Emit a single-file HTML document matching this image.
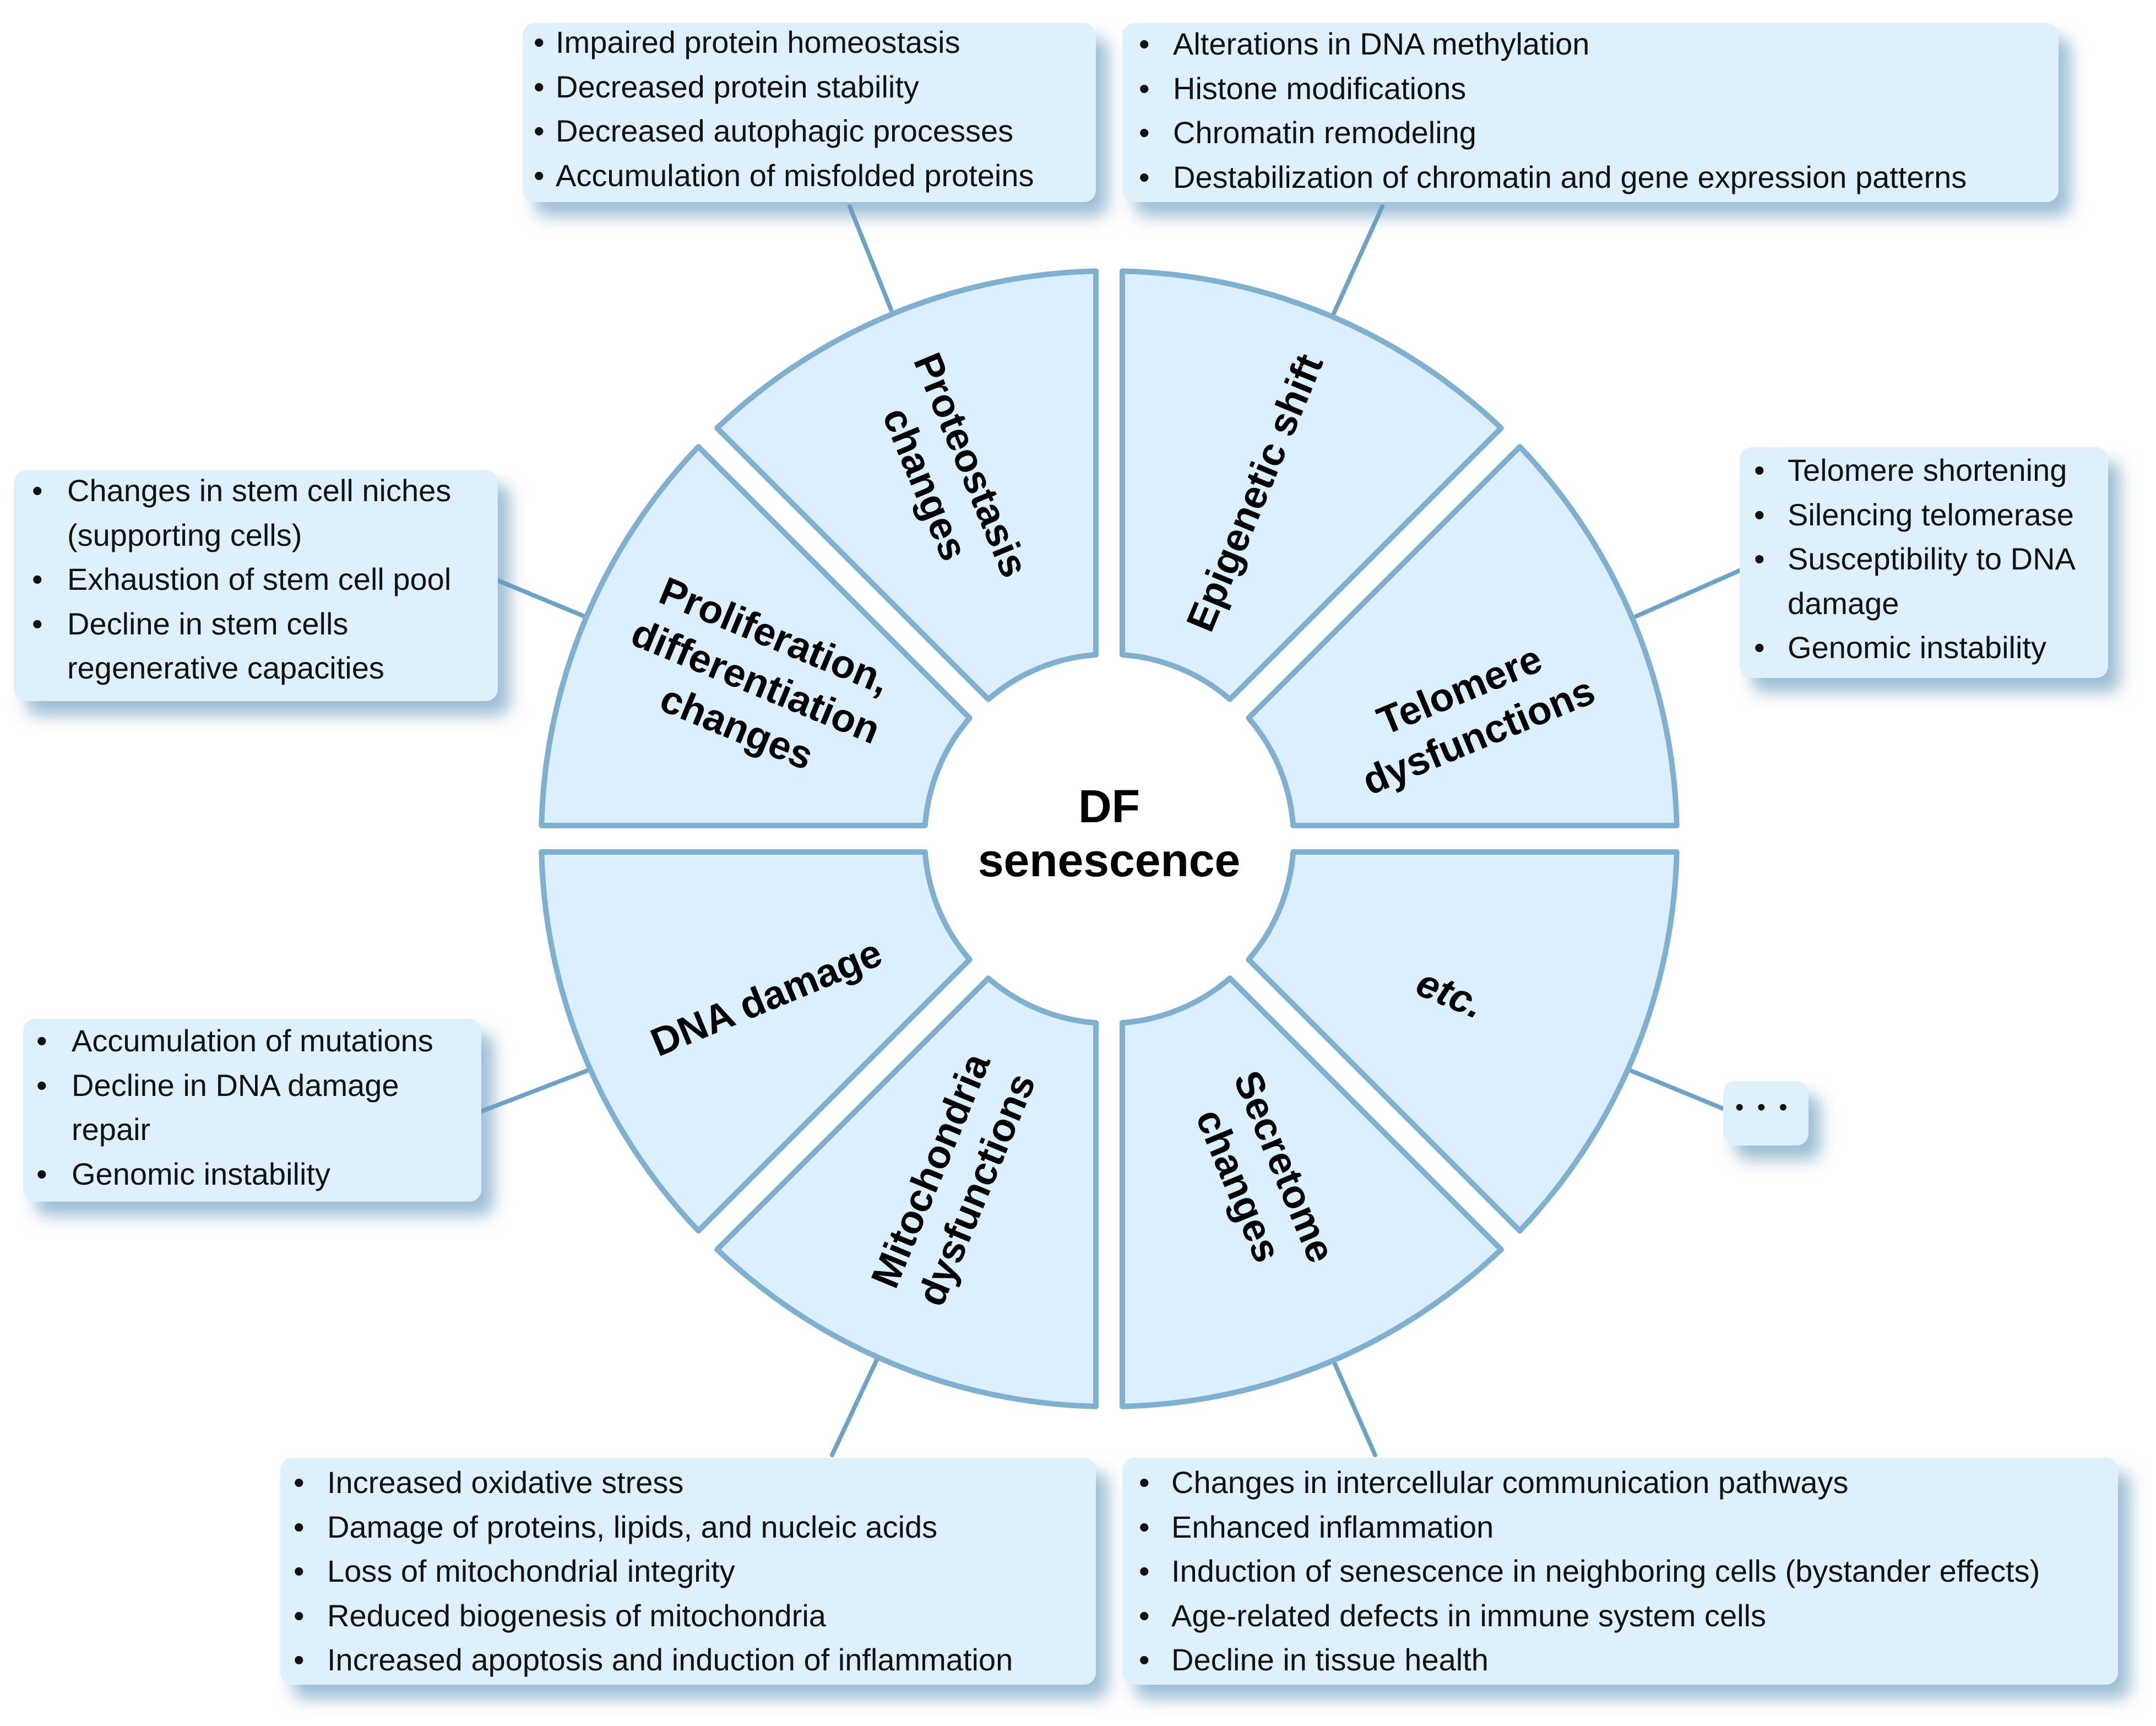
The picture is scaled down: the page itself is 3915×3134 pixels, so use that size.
<!DOCTYPE html>
<html><head><meta charset="utf-8"><style>
html,body{margin:0;padding:0;background:#fff;}
#root{position:relative;width:3915px;height:3134px;overflow:hidden;background:#fff;font-family:"Liberation Sans",sans-serif;}
.box{position:absolute;background:#dff0fd;border-radius:22px;box-shadow:22px 26px 30px rgba(105,155,190,0.65);}
.tx{position:absolute;left:0;right:0;font-size:56px;line-height:80.6px;color:#111;}
.ln{position:relative;white-space:nowrap;}
.bu{position:absolute;}
svg{position:absolute;left:0;top:0;}
</style></head><body><div id="root">
<svg width="3915" height="3134" viewBox="0 0 3915 3134">
<g stroke="#6fa3c6" stroke-width="8" stroke-linecap="round">
<line x1="1543" y1="375" x2="1618" y2="562"/>
<line x1="2510" y1="375" x2="2422" y2="569"/>
<line x1="3159" y1="1036" x2="2971" y2="1119"/>
<line x1="904" y1="1054" x2="1061" y2="1119"/>
<line x1="874" y1="2018" x2="1069" y2="1943"/>
<line x1="3129" y1="2013" x2="2959" y2="1943"/>
<line x1="1511" y1="2642" x2="1593" y2="2467"/>
<line x1="2497" y1="2642" x2="2422" y2="2472"/>
</g>
<g transform="translate(2014,1523)" fill="#dcefff" stroke="#7fb0cf" stroke-width="10" stroke-linejoin="round">
<path d="M24,-334.14 L24,-1030.72 A1031 1031 0 0 1 711.85,-745.79 L219.30,-253.24 A335 335 0 0 0 24,-334.14 Z"/>
<path d="M253.24,-219.30 L745.79,-711.85 A1031 1031 0 0 1 1030.72,-24 L334.14,-24 A335 335 0 0 0 253.24,-219.30 Z"/>
<path d="M334.14,24 L1030.72,24 A1031 1031 0 0 1 745.79,711.85 L253.24,219.30 A335 335 0 0 0 334.14,24 Z"/>
<path d="M219.30,253.24 L711.85,745.79 A1031 1031 0 0 1 24,1030.72 L24,334.14 A335 335 0 0 0 219.30,253.24 Z"/>
<path d="M-24,334.14 L-24,1030.72 A1031 1031 0 0 1 -711.85,745.79 L-219.30,253.24 A335 335 0 0 0 -24,334.14 Z"/>
<path d="M-253.24,219.30 L-745.79,711.85 A1031 1031 0 0 1 -1030.72,24 L-334.14,24 A335 335 0 0 0 -253.24,219.30 Z"/>
<path d="M-334.14,-24 L-1030.72,-24 A1031 1031 0 0 1 -745.79,-711.85 L-253.24,-219.30 A335 335 0 0 0 -334.14,-24 Z"/>
<path d="M-219.30,-253.24 L-711.85,-745.79 A1031 1031 0 0 1 -24,-1030.72 L-24,-334.14 A335 335 0 0 0 -219.30,-253.24 Z"/>
</g>
<g transform="translate(2014,1523)" font-family="Liberation Sans, sans-serif" font-weight="bold" font-size="72" fill="#000" text-anchor="middle">
<text transform="translate(263,-629) rotate(-67.5)"><tspan x="0" dy="26">Epigenetic shift</tspan></text>
<text transform="translate(653,-230) rotate(-22.5)"><tspan x="0" dy="-19">Telomere</tspan><tspan x="0" dy="90">dysfunctions</tspan></text>
<text transform="translate(620,280) rotate(22.5)" font-style="italic"><tspan x="0" dy="26">etc.</tspan></text>
<text transform="translate(278,612) rotate(67.5)"><tspan x="0" dy="-19">Secretome</tspan><tspan x="0" dy="90">changes</tspan></text>
<text transform="translate(-284,619) rotate(-67.5)"><tspan x="0" dy="-19">Mitochondria</tspan><tspan x="0" dy="90">dysfunctions</tspan></text>
<text transform="translate(-623,287) rotate(-22.5)"><tspan x="0" dy="26">DNA damage</tspan></text>
<text transform="translate(-641,-287) rotate(22.5)"><tspan x="0" dy="-64">Proliferation,</tspan><tspan x="0" dy="90">differentiation</tspan><tspan x="0" dy="90">changes</tspan></text>
<text transform="translate(-291,-662) rotate(67.5)"><tspan x="0" dy="-19">Proteostasis</tspan><tspan x="0" dy="90">changes</tspan></text>
<text x="0" y="-30" font-size="84">DF</text>
<text x="0" y="68" font-size="84">senescence</text>
</g>
</svg>

<div class="box" style="left:949px;top:42px;width:1041px;height:325px;">
<div class="tx" style="top:-5px;">
<div class="ln" style="padding-left:60px"><span class="bu" style="left:20px">•</span>Impaired protein homeostasis</div>
<div class="ln" style="padding-left:60px"><span class="bu" style="left:20px">•</span>Decreased protein stability</div>
<div class="ln" style="padding-left:60px"><span class="bu" style="left:20px">•</span>Decreased autophagic processes</div>
<div class="ln" style="padding-left:60px"><span class="bu" style="left:20px">•</span>Accumulation of misfolded proteins</div>
</div></div>

<div class="box" style="left:2038px;top:42px;width:1700px;height:325px;">
<div class="tx" style="top:-2px;">
<div class="ln" style="padding-left:92px"><span class="bu" style="left:30px">•</span>Alterations in DNA methylation</div>
<div class="ln" style="padding-left:92px"><span class="bu" style="left:30px">•</span>Histone modifications</div>
<div class="ln" style="padding-left:92px"><span class="bu" style="left:30px">•</span>Chromatin remodeling</div>
<div class="ln" style="padding-left:92px"><span class="bu" style="left:30px">•</span>Destabilization of chromatin and gene expression patterns</div>
</div></div>

<div class="box" style="left:3159px;top:812px;width:669px;height:419px;">
<div class="tx" style="top:2px;">
<div class="ln" style="padding-left:87px"><span class="bu" style="left:26px">•</span>Telomere shortening</div>
<div class="ln" style="padding-left:87px"><span class="bu" style="left:26px">•</span>Silencing telomerase</div>
<div class="ln" style="padding-left:87px"><span class="bu" style="left:26px">•</span>Susceptibility to DNA</div>
<div class="ln" style="padding-left:87px">damage</div>
<div class="ln" style="padding-left:87px"><span class="bu" style="left:26px">•</span>Genomic instability</div>
</div></div>

<div class="box" style="left:25px;top:854px;width:879px;height:419px;">
<div class="tx" style="top:-3px;">
<div class="ln" style="padding-left:97px"><span class="bu" style="left:33px">•</span>Changes in stem cell niches</div>
<div class="ln" style="padding-left:97px">(supporting cells)</div>
<div class="ln" style="padding-left:97px"><span class="bu" style="left:33px">•</span>Exhaustion of stem cell pool</div>
<div class="ln" style="padding-left:97px"><span class="bu" style="left:33px">•</span>Decline in stem cells</div>
<div class="ln" style="padding-left:97px">regenerative capacities</div>
</div></div>

<div class="box" style="left:42px;top:1850px;width:832px;height:332px;">
<div class="tx" style="top:0px;">
<div class="ln" style="padding-left:88px"><span class="bu" style="left:24px">•</span>Accumulation of mutations</div>
<div class="ln" style="padding-left:88px"><span class="bu" style="left:24px">•</span>Decline in DNA damage</div>
<div class="ln" style="padding-left:88px">repair</div>
<div class="ln" style="padding-left:88px"><span class="bu" style="left:24px">•</span>Genomic instability</div>
</div></div>

<div class="box" style="left:3129px;top:1963px;width:155px;height:117px;">
<div class="tx" style="top:8px;padding-left:22px;font-size:44px;letter-spacing:6px;">• • •</div>
</div>

<div class="box" style="left:509px;top:2647px;width:1481px;height:412px;">
<div class="tx" style="top:5px;">
<div class="ln" style="padding-left:85px"><span class="bu" style="left:24px">•</span>Increased oxidative stress</div>
<div class="ln" style="padding-left:85px"><span class="bu" style="left:24px">•</span>Damage of proteins, lipids, and nucleic acids</div>
<div class="ln" style="padding-left:85px"><span class="bu" style="left:24px">•</span>Loss of mitochondrial integrity</div>
<div class="ln" style="padding-left:85px"><span class="bu" style="left:24px">•</span>Reduced biogenesis of mitochondria</div>
<div class="ln" style="padding-left:85px"><span class="bu" style="left:24px">•</span>Increased apoptosis and induction of inflammation</div>
</div></div>

<div class="box" style="left:2038px;top:2647px;width:1808px;height:412px;">
<div class="tx" style="top:5px;">
<div class="ln" style="padding-left:89px"><span class="bu" style="left:30px">•</span>Changes in intercellular communication pathways</div>
<div class="ln" style="padding-left:89px"><span class="bu" style="left:30px">•</span>Enhanced inflammation</div>
<div class="ln" style="padding-left:89px"><span class="bu" style="left:30px">•</span>Induction of senescence in neighboring cells (bystander effects)</div>
<div class="ln" style="padding-left:89px"><span class="bu" style="left:30px">•</span>Age-related defects in immune system cells</div>
<div class="ln" style="padding-left:89px"><span class="bu" style="left:30px">•</span>Decline in tissue health</div>
</div></div>

</div></body></html>
